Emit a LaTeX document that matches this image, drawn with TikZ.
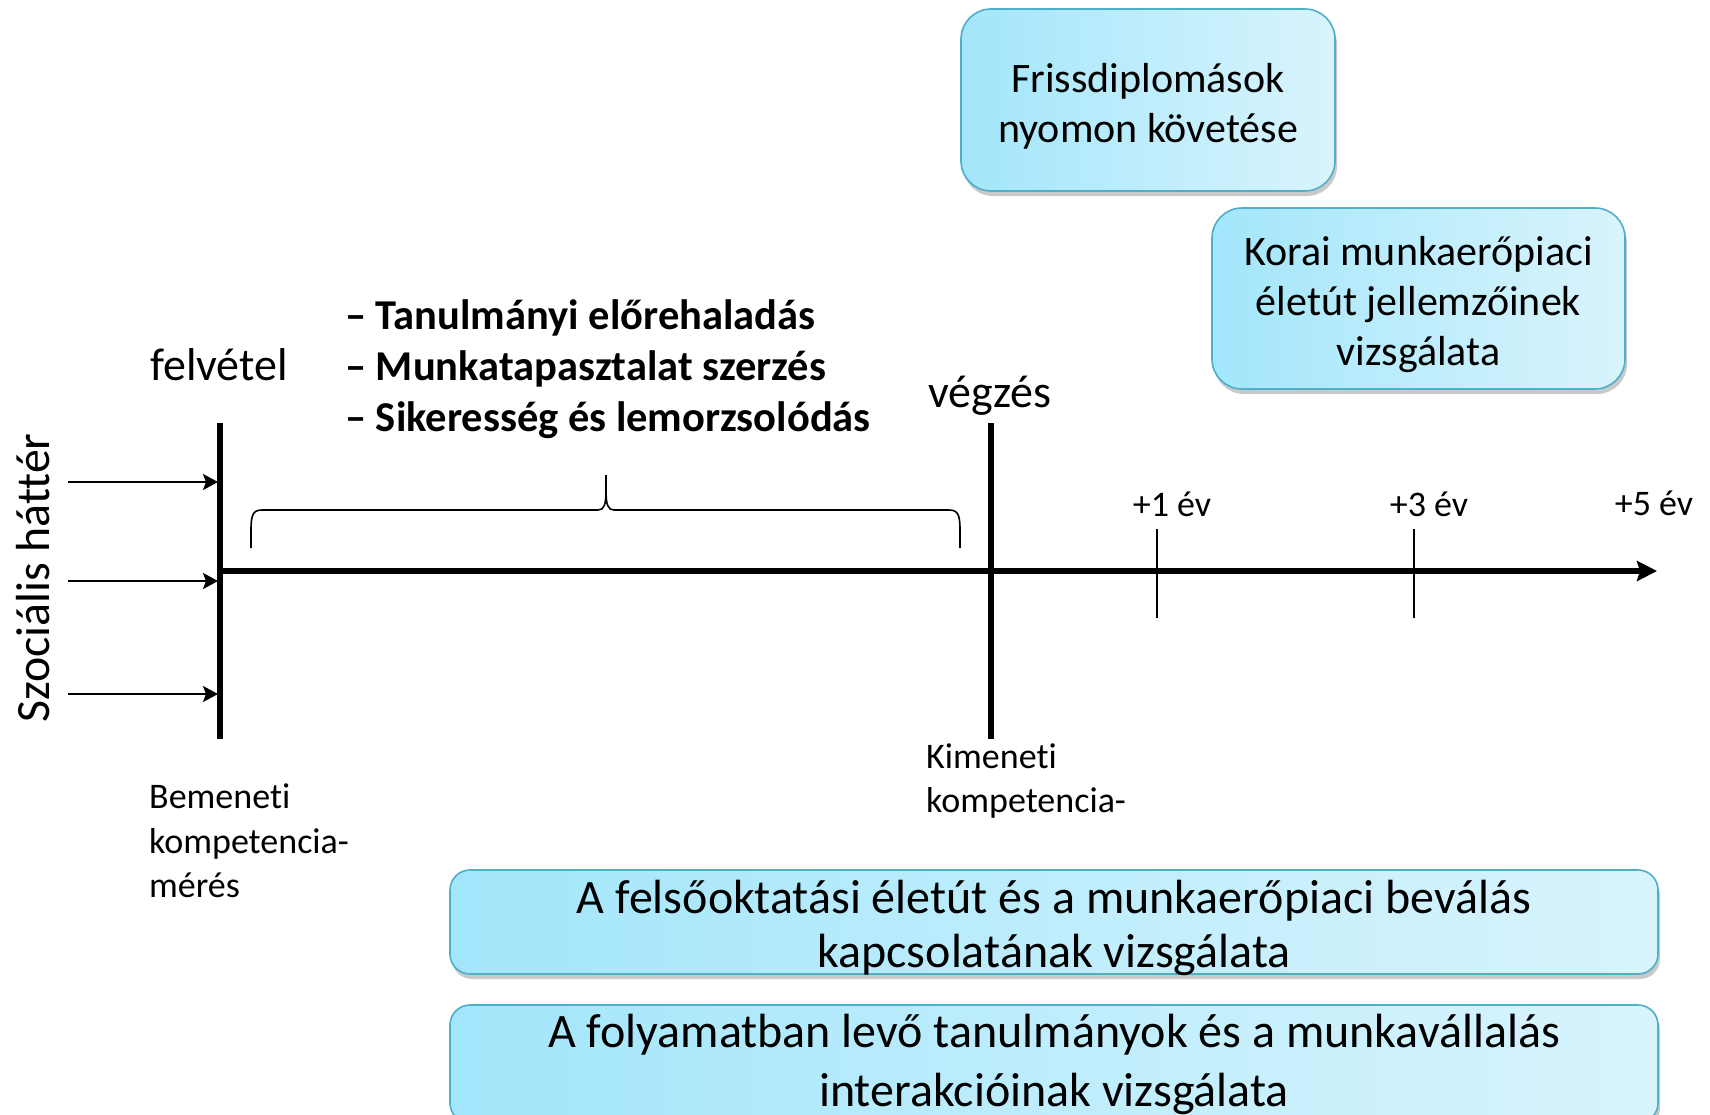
\documentclass[tikz,border=0pt]{standalone}
\usepackage{fontspec}
\setmainfont{Carlito}[Ligatures=NoCommon]
\usetikzlibrary{arrows.meta,shadows}
\definecolor{boxL}{HTML}{A3E6FB}
\definecolor{boxR}{HTML}{D9F4FD}
\definecolor{boxD}{HTML}{4DAFC8}
\tikzset{
  infobox/.style={shade, left color=boxL, right color=boxR, draw=boxD, line width=1.6pt,
    inner sep=0pt,
    drop shadow={shadow xshift=2pt, shadow yshift=-5pt, opacity=0.35, fill=black!60}},
  boxtext/.style={inner sep=0pt, align=center},
  lbl/.style={inner sep=0pt, align=left},
  inarrow/.style={line width=2.2pt, -{Stealth[length=15pt,width=16pt,inset=3pt]}},
  bigline/.style={line width=5.3pt},
  tickline/.style={line width=1.8pt},
}
\begin{document}
\begin{tikzpicture}[x=1pt,y=-1pt]
\useasboundingbox (0,0) rectangle (1710,1114);
\fill[white] (0,0) rectangle (1710,1114);
\clip (0,0) rectangle (1710,1114);

% boxes
\node[infobox, rounded corners=30pt, minimum width=374pt, minimum height=182pt] (fris) at (1148,100) {};
\node[boxtext, font=\fontsize{42}{50}\selectfont] (frisT) at (1148,106.5) {Frissdiplomások\\nyomon követése};
\node[infobox, rounded corners=30pt, minimum width=413pt, minimum height=181pt] (korai) at (1418.5,298.5) {};
\node[boxtext, font=\fontsize{42}{50}\selectfont] (koraiT) at (1418.5,305) {Korai munkaerőpiaci\\életút jellemzőinek\\vizsgálata};
\node[infobox, rounded corners=20pt, minimum width=1208pt, minimum height=104pt] (felso) at (1054,922) {};
\node[boxtext, font=\fontsize{48}{54.5}\selectfont] (felsoT) at (1054,928) {A felsőoktatási életút és a munkaerőpiaci beválás\\kapcsolatának vizsgálata};
\node[infobox, rounded corners=20pt, minimum width=1208pt, minimum height=118pt] (foly) at (1054,1064) {};
\node[boxtext, font=\fontsize{48}{59}\selectfont] (folyT) at (1054,1064) {A folyamatban levő tanulmányok és a munkavállalás\\interakcióinak vizsgálata};

% vertical lines and axis
\coordinate (fTop) at (220,423);
\coordinate (fBot) at (220,739);
\coordinate (vTop) at (991,423);
\coordinate (vBot) at (991,739);
\coordinate (axS) at (220,571);
\coordinate (axE) at (1657,571);
\draw[bigline] (fTop) -- (fBot);
\draw[bigline] (vTop) -- (vBot);
\draw[line width=6pt, -{Stealth[length=20pt,width=20pt,inset=3pt]}] (axS) -- (axE);

% ticks
\coordinate (t1a) at (1157,529);
\coordinate (t1b) at (1157,618);
\coordinate (t3a) at (1414,529);
\coordinate (t3b) at (1414,618);
\draw[tickline] (t1a) -- (t1b);
\draw[tickline] (t3a) -- (t3b);

% incoming arrows
\coordinate (a1s) at (68,482);
\coordinate (a1e) at (218,482);
\coordinate (a2s) at (68,581);
\coordinate (a2e) at (218,581);
\coordinate (a3s) at (68,694);
\coordinate (a3e) at (218,694);
\draw[inarrow] (a1s) -- (a1e);
\draw[inarrow] (a2s) -- (a2e);
\draw[inarrow] (a3s) -- (a3e);

% brace
\coordinate (brL) at (251,548);
\coordinate (brR) at (960,548);
\coordinate (brT) at (606,475);
\draw[line width=1.6pt] (brL) -- (251,530) .. controls (251,515) and (253,510) .. (262,510)
  -- (598,510) .. controls (604,510) and (606,505) .. (606,490) -- (brT)
  (606,490) .. controls (606,505) and (608,510) .. (614,510)
  -- (949,510) .. controls (958,510) and (960,515) .. (960,530) -- (brR);

% labels
\node[lbl, font=\fontsize{46}{55}\selectfont] (felvetel) at (219,365) {felvétel};
\node[lbl, font=\fontsize{46}{55}\selectfont] (vegzes) at (990,396) {végzés};
\node[lbl, anchor=west, font=\bfseries\fontsize{42.5}{50.7}\selectfont] (lista) at (345,369)
  {– Tanulmányi előrehaladás\\– Munkatapasztalat szerzés\\– Sikeresség és lemorzsolódás};
\node[lbl, rotate=90, font=\fontsize{47.8}{55}\selectfont] (szoc) at (33,578) {Szociális háttér};
\node[lbl, font=\fontsize{36}{44}\selectfont] (ev1) at (1172,504) {+1 év};
\node[lbl, font=\fontsize{36}{44}\selectfont] (ev3) at (1429,504) {+3 év};
\node[lbl, font=\fontsize{36}{44}\selectfont] (ev5) at (1654,503) {+5 év};
\node[lbl, anchor=west, font=\fontsize{36}{44.7}\selectfont] (bem) at (149,841) {Bemeneti\\kompetencia-\\mérés};
\node[lbl, anchor=west, font=\fontsize{36}{44.7}\selectfont] (kim) at (926,781) {Kimeneti\\kompetencia-};
\end{tikzpicture}
\end{document}
